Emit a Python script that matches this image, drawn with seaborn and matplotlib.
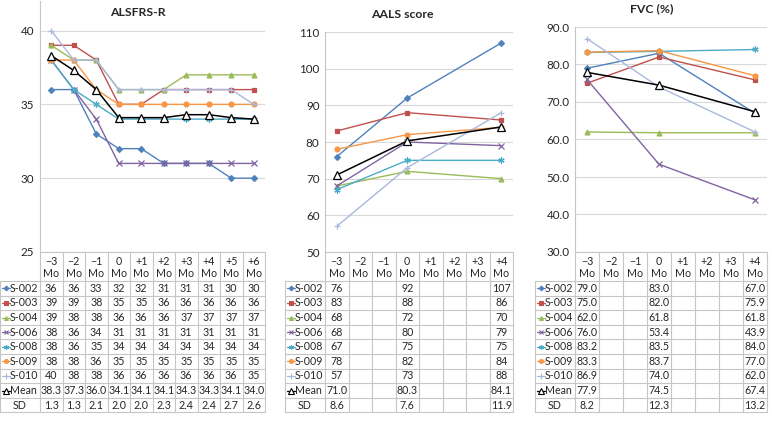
import numpy as np
import matplotlib
matplotlib.use('Agg')
import matplotlib.pyplot as plt
import seaborn as sns
from matplotlib.transforms import blended_transform_factory

sns.set_style('white')
plt.rcParams['font.family'] = ['Lato', 'DejaVu Sans']

subjects = ['S-002', 'S-003', 'S-004', 'S-006', 'S-008', 'S-009', 'S-010']
colors = ['#4F81BD', '#C0504D', '#9BBB59', '#8064A2', '#4BACC6', '#F79646', '#A9B8DC']
markers = ['D', 's', '^', 'x', (6, 2, 0), 'o', '+']
msizes = [3, 3.5, 3.5, 4, 4.5, 3.5, 5]

long_cols = ['\u22123\nMo', '\u22122\nMo', '\u22121\nMo', '0\nMo', '+1\nMo',
             '+2\nMo', '+3\nMo', '+4\nMo', '+5\nMo', '+6\nMo']
short_cols = long_cols[:8]

alsfrs_values = [
    [36, 36, 33, 32, 32, 31, 31, 31, 30, 30],
    [39, 39, 38, 35, 35, 36, 36, 36, 36, 36],
    [39, 38, 38, 36, 36, 36, 37, 37, 37, 37],
    [38, 36, 34, 31, 31, 31, 31, 31, 31, 31],
    [38, 36, 35, 34, 34, 34, 34, 34, 34, 34],
    [38, 38, 36, 35, 35, 35, 35, 35, 35, 35],
    [40, 38, 38, 36, 36, 36, 36, 36, 36, 35],
]
alsfrs_mean = [38.3, 37.3, 36.0, 34.1, 34.1, 34.1, 34.3, 34.3, 34.1, 34.0]
alsfrs_sd = [1.3, 1.3, 2.1, 2.0, 2.0, 2.3, 2.4, 2.4, 2.7, 2.6]

nan = np.nan
aals_values = [
    [76, nan, nan, 92, nan, nan, nan, 107],
    [83, nan, nan, 88, nan, nan, nan, 86],
    [68, nan, nan, 72, nan, nan, nan, 70],
    [68, nan, nan, 80, nan, nan, nan, 79],
    [67, nan, nan, 75, nan, nan, nan, 75],
    [78, nan, nan, 82, nan, nan, nan, 84],
    [57, nan, nan, 73, nan, nan, nan, 88],
]
aals_mean = [71.0, nan, nan, 80.3, nan, nan, nan, 84.1]
aals_sd = [8.6, nan, nan, 7.6, nan, nan, nan, 11.9]

fvc_values = [
    [79.0, nan, nan, 83.0, nan, nan, nan, 67.0],
    [75.0, nan, nan, 82.0, nan, nan, nan, 75.9],
    [62.0, nan, nan, 61.8, nan, nan, nan, 61.8],
    [76.0, nan, nan, 53.4, nan, nan, nan, 43.9],
    [83.2, nan, nan, 83.5, nan, nan, nan, 84.0],
    [83.3, nan, nan, 83.7, nan, nan, nan, 77.0],
    [86.9, nan, nan, 74.0, nan, nan, nan, 62.0],
]
fvc_mean = [77.9, nan, nan, 74.5, nan, nan, nan, 67.4]
fvc_sd = [8.2, nan, nan, 12.3, nan, nan, nan, 13.2]

W, H = 772, 423
fig = plt.figure(figsize=(W / 100, H / 100), dpi=100)

GRID = '#D9D9D9'
EDGE = '#C6C6C6'
FS = 7.7


def panel(box, title, title_xy, cols, values, mean, sd, ylim, yticks, tickfmt, valfmt):
    x0, x1, ytop, ybot = box
    ax = fig.add_axes([x0 / W, 1 - ybot / H, (x1 - x0) / W, (ybot - ytop) / H])
    n = len(cols)
    pos = np.arange(n)
    for i, s in enumerate(subjects):
        v = np.array(values[i], float)
        ok = ~np.isnan(v)
        sns.lineplot(x=pos[ok], y=v[ok], ax=ax, color=colors[i], lw=1,
                     marker=markers[i], ms=msizes[i], mec=colors[i], mfc=colors[i],
                     mew=0.9, errorbar=None)
    m = np.array(mean, float)
    ok = ~np.isnan(m)
    sns.lineplot(x=pos[ok], y=m[ok], ax=ax, color='black', lw=1.1, marker='^',
                 ms=6, mfc='white', mec='black', mew=0.9, errorbar=None)

    ax.set_xlim(-0.5, n - 0.5)
    ax.set_ylim(*ylim)
    ax.set_yticks(yticks)
    ax.set_yticklabels([tickfmt.format(t) for t in yticks], fontsize=8.4)
    ax.set_xticks([])
    ax.set_xlabel('')
    ax.set_ylabel('')
    ax.tick_params(axis='y', length=0, pad=4)
    ax.grid(axis='y', color=GRID, lw=0.8)
    ax.set_axisbelow(True)
    for sp in ['top', 'right']:
        ax.spines[sp].set_visible(False)
    for sp in ['left', 'bottom']:
        ax.spines[sp].set_color(EDGE)
        ax.spines[sp].set_linewidth(0.8)

    fig.text(title_xy[0] / W, 1 - title_xy[1] / H, title, ha='center', va='center',
             fontsize=8.8, fontweight='bold')

    # data table under the chart
    h = ybot - ytop
    colw = (x1 - x0) / n
    tr = blended_transform_factory(ax.transData, ax.transAxes)

    def ya(ypx):
        return -(ypx - ybot) / h

    head_bot = 281
    row_h = 14.6
    nrows = len(subjects) + 2
    bottom = head_bot + nrows * row_h
    lab_left = -0.5 - 40 / colw

    kw = dict(transform=tr, clip_on=False, color=EDGE, lw=0.8)
    for j in range(n + 1):
        ax.plot([j - 0.5, j - 0.5], [ya(ybot), ya(bottom)], **kw)
    ax.plot([lab_left, lab_left], [ya(head_bot), ya(bottom)], **kw)
    for r in range(nrows + 1):
        yy = ya(head_bot + r * row_h)
        ax.plot([lab_left, n - 0.5], [yy, yy], **kw)

    for j, c in enumerate(cols):
        ax.text(j, ya((ybot + head_bot) / 2 + 1), c, transform=tr, ha='center',
                va='center', fontsize=FS, linespacing=1.05)

    labels = subjects + ['Mean', 'SD']
    rows = [values[i] for i in range(len(subjects))] + [mean, sd]
    for r, lab in enumerate(labels):
        yc = ya(head_bot + (r + 0.5) * row_h)
        for j in range(n):
            v = rows[r][j]
            if v is None or np.isnan(v):
                continue
            txt = '{:.1f}'.format(v) if r >= len(subjects) else valfmt.format(v)
            ax.text(j, yc, txt, transform=tr, ha='center', va='center', fontsize=FS)
        ka = lab_left + 1.5 / colw
        kb = lab_left + 9.5 / colw
        if r < len(subjects):
            ax.plot([ka, kb], [yc, yc], transform=tr, clip_on=False, color=colors[r], lw=0.9)
            ax.plot([(ka + kb) / 2], [yc], transform=tr, clip_on=False, color=colors[r],
                    marker=markers[r], ms=msizes[r] * 0.8, mew=0.8, mec=colors[r], mfc=colors[r])
        elif lab == 'Mean':
            ax.plot([ka, kb], [yc, yc], transform=tr, clip_on=False, color='black', lw=0.9)
            ax.plot([(ka + kb) / 2], [yc], transform=tr, clip_on=False, color='black',
                    marker='^', ms=4.5, mew=0.8, mec='black', mfc='white')
        if lab == 'SD':
            ax.text((lab_left - 0.5) / 2, yc, lab, transform=tr, ha='center', va='center', fontsize=FS)
        else:
            ax.text(kb + 0.3 / colw, yc, lab, transform=tr, ha='left', va='center', fontsize=FS)
    return ax


panel((40, 265, 1, 252), 'ALSFRS-R', (138, 13), long_cols, alsfrs_values, alsfrs_mean,
      alsfrs_sd, (25, 42), [25, 30, 35, 40], '{:.0f}', '{:.0f}')
panel((325, 513, 32, 252), 'AALS score', (402, 14), short_cols, aals_values, aals_mean,
      aals_sd, (50, 110), [50, 60, 70, 80, 90, 100, 110], '{:.0f}', '{:.0f}')
panel((575, 767, 27, 252), 'FVC (%)', (652, 9), short_cols, fvc_values, fvc_mean,
      fvc_sd, (30, 90), [30, 40, 50, 60, 70, 80, 90], '{:.1f}', '{:.1f}')

fig.savefig('out.png', dpi=100)
